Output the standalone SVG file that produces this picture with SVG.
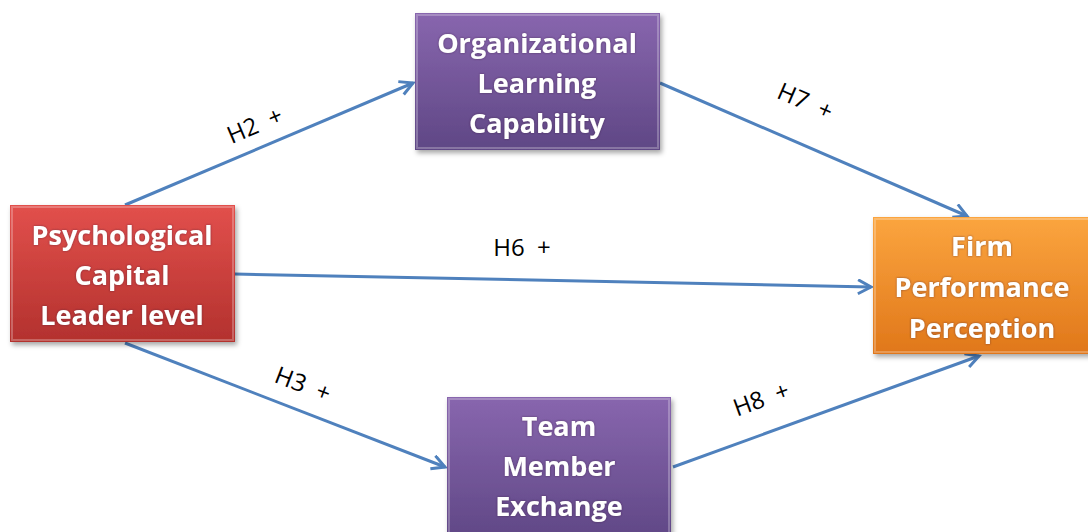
<svg xmlns="http://www.w3.org/2000/svg" width="1088" height="532" viewBox="0 0 1088 532">
<defs>
<linearGradient id="gRed" x1="0" y1="0" x2="0" y2="1"><stop offset="0" stop-color="#E2504C"/><stop offset="1" stop-color="#B3312E"/></linearGradient>
<linearGradient id="gPur" x1="0" y1="0" x2="0" y2="1"><stop offset="0" stop-color="#8866AE"/><stop offset="1" stop-color="#5F4785"/></linearGradient>
<linearGradient id="gOrg" x1="0" y1="0" x2="0" y2="1"><stop offset="0" stop-color="#FBA53F"/><stop offset="1" stop-color="#E0771A"/></linearGradient>
<filter id="sh" x="-10%" y="-10%" width="130%" height="130%"><feDropShadow dx="2" dy="3" stdDeviation="2.5" flood-color="#000" flood-opacity="0.35"/></filter>
<filter id="tsh" x="-10%" y="-20%" width="120%" height="140%"><feDropShadow dx="0" dy="0" stdDeviation="1" flood-color="#3a1a3a" flood-opacity="0.6"/></filter>
<marker id="arr" markerUnits="userSpaceOnUse" markerWidth="20" markerHeight="20" refX="15" refY="8" orient="auto">
<path d="M2,1 L15,8 L2,15" fill="none" stroke="#4F81BD" stroke-width="3" stroke-linejoin="miter"/>
</marker>
<style>
.box{filter:url(#sh);}
.bev{fill:none;stroke:#ffffff;stroke-opacity:0.25;stroke-width:2;}
.nt{font-family:"Open Sans","Liberation Sans",Arial,sans-serif;font-weight:bold;font-size:27px;fill:#ffffff;text-anchor:middle;filter:url(#tsh);}
.edge{stroke:#4F81BD;stroke-width:3;fill:none;marker-end:url(#arr);}
.lbl{font-family:"Open Sans","Liberation Sans",Arial,sans-serif;font-size:24px;fill:#000;text-anchor:middle;white-space:pre;}
</style>
</defs>
<g id="connectors">
<line class="edge" x1="125" y1="205" x2="413" y2="83"/>
<line class="edge" x1="660" y1="83" x2="967" y2="216"/>
<line class="edge" x1="235" y1="274" x2="871" y2="287"/>
<line class="edge" x1="125" y1="343" x2="445" y2="467"/>
<line class="edge" x1="673" y1="467" x2="979" y2="356"/>
<text class="lbl" xml:space="preserve" transform="translate(258,133) rotate(-23)">H2  +</text>
<text class="lbl" xml:space="preserve" transform="translate(802,109) rotate(23.5)">H7  +</text>
<text class="lbl" xml:space="preserve" x="522" y="256">H6  +</text>
<text class="lbl" xml:space="preserve" transform="translate(300,392) rotate(21)">H3  +</text>
<text class="lbl" xml:space="preserve" transform="translate(764,407) rotate(-20)">H8  +</text>
</g>
<g id="psy">
<rect class="box" x="10" y="205" width="225" height="137" fill="url(#gRed)"/>
<rect class="bev" x="12" y="207" width="221" height="133"/>
<text class="nt" x="122" y="245">Psychological</text>
<text class="nt" x="122" y="285">Capital</text>
<text class="nt" x="122" y="325">Leader level</text>
</g>
<g id="olc">
<rect class="box" x="415" y="13" width="245" height="137" fill="url(#gPur)"/>
<rect class="bev" x="417" y="15" width="241" height="133"/>
<text class="nt" x="537" y="53">Organizational</text>
<text class="nt" x="537" y="93">Learning</text>
<text class="nt" x="537" y="133">Capability</text>
</g>
<g id="fpp">
<rect class="box" x="873" y="217" width="220" height="137" fill="url(#gOrg)"/>
<rect class="bev" x="875" y="219" width="216" height="133"/>
<text class="nt" x="982" y="256">Firm</text>
<text class="nt" x="982" y="297">Performance</text>
<text class="nt" x="982" y="338">Perception</text>
</g>
<g id="tme">
<rect class="box" x="447" y="397" width="224" height="145" fill="url(#gPur)"/>
<rect class="bev" x="449" y="399" width="220" height="141"/>
<text class="nt" x="559" y="436">Team</text>
<text class="nt" x="559" y="476">Member</text>
<text class="nt" x="559" y="516">Exchange</text>
</g>
</svg>
